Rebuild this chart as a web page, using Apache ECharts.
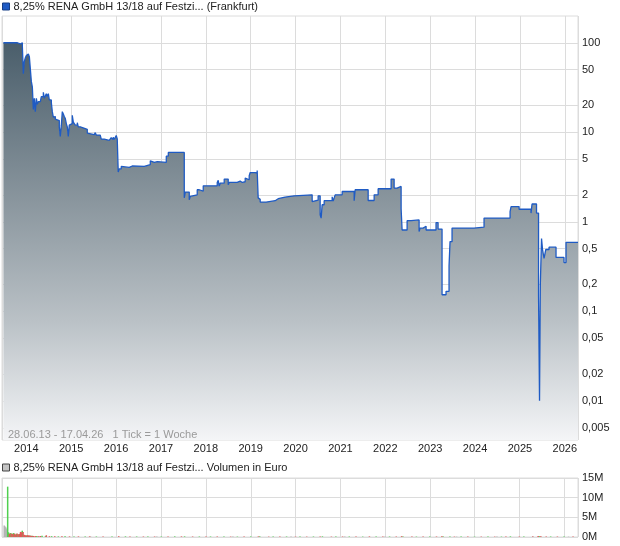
<!DOCTYPE html>
<html>
<head>
<meta charset="utf-8">
<script src="https://cdn.jsdelivr.net/npm/echarts@6/dist/echarts.min.js"></script>
<style>
html,body{margin:0;padding:0;background:#ffffff;}
#chart{width:620px;height:546px;}
</style>
</head>
<body>
<div id="chart"></div>
<script>
// ---------- texts ----------
const priceName = '8,25% RENA GmbH 13/18 auf Festzi... (Frankfurt)';
const volumeName = '8,25% RENA GmbH 13/18 auf Festzi... Volumen in Euro';
const rangeText = '28.06.13 - 17.04.26   1 Tick = 1 Woche';
const axisStartYear = 2013.457;   // left edge of the time axis
const axisEndYear = 2026.294;     // right edge (17.04.26)

// ---------- tick labels ----------
const yearTicks = [2014,2015,2016,2017,2018,2019,2020,2021,2022,2023,2024,2025,2026];
const priceTicks = [100,50,20,10,5,2,1,0.5,0.2,0.1,0.05,0.02,0.01,0.005];
const volumeTicks = [0, 5e6, 10e6, 15e6];

// ---------- price (decimal year, price) ----------
const priceSeries = [
 [2013.488,100],[2013.800,100],[2013.822,97],[2013.866,100],[2013.911,92],[2013.933,45],[2013.955,62],[2013.978,68],
 [2014.000,72],[2014.022,75],[2014.045,75],[2014.067,70],[2014.111,37],[2014.134,32],[2014.156,18],[2014.178,24],
 [2014.200,17],[2014.223,24],[2014.245,20.5],[2014.267,22],[2014.312,23],[2014.334,25],[2014.379,28],[2014.401,24],
 [2014.423,25],[2014.445,27],[2014.468,25],[2014.490,27],[2014.512,23],[2014.557,21.5],[2014.579,17],[2014.601,14.8],
 [2014.624,15],[2014.646,14],[2014.690,13.5],[2014.735,11.5],[2014.757,9],[2014.780,12],[2014.802,17],[2014.824,16],
 [2014.846,15],[2014.869,14.2],[2014.891,12.5],[2014.913,11.5],[2014.935,9],[2014.958,12],[2015.002,12.5],[2015.024,15.5],
 [2015.047,13],[2015.069,13.5],[2015.091,12],[2015.136,12.8],[2015.158,11.5],[2015.203,11],[2015.314,11.2],[2015.336,10.8],
 [2015.359,9.8],[2015.403,9.4],[2015.514,9.5],[2015.537,9.9],[2015.559,9.3],[2015.648,8.9],[2015.670,8.4],[2015.737,8.1],
 [2015.849,8.3],[2015.893,8.7],[2015.915,8.3],[2015.938,8.8],[2015.960,8.3],[2016.004,9.2],[2016.027,8.4],[2016.049,3.6],
 [2016.071,3.9],[2016.116,4.15],[2016.160,4.05],[2016.294,4.2],[2016.361,4.15],[2016.628,4.35],[2016.762,4.8],[2016.806,4.6],
 [2016.851,4.7],[2016.918,4.6],[2017.118,5.4],[2017.163,5.95],[2017.519,1.85],[2017.541,2.15],[2017.630,1.76],[2017.653,1.92],
 [2017.697,2.0],[2017.808,2.28],[2017.853,2.2],[2017.942,2.52],[2018.254,2.75],[2018.276,2.9],[2018.298,2.5],[2018.321,2.7],
 [2018.410,3.0],[2018.499,2.6],[2018.521,2.75],[2018.699,2.85],[2018.766,2.75],[2018.811,2.8],[2018.878,3.08],[2018.922,2.95],
 [2018.967,3.27],[2018.989,3.55],[2019.100,3.65],[2019.123,3.5],[2019.145,3.75],[2019.167,1.85],[2019.189,1.78],[2019.212,1.66],
 [2019.345,1.72],[2019.546,1.81],[2019.613,1.89],[2019.768,1.95],[2019.969,2.0],[2020.370,1.68],[2020.392,1.75],[2020.503,1.95],
 [2020.548,1.2],[2020.570,1.1],[2020.592,1.55],[2020.637,1.72],[2020.815,1.9],[2020.837,1.7],[2020.860,1.85],[2020.882,2.0],
 [2021.038,2.18],[2021.305,1.72],[2021.327,2.28],[2021.617,1.73],[2021.751,2.0],[2021.840,2.34],[2022.129,3.0],[2022.196,2.38],
 [2022.263,2.48],[2022.352,1.4],[2022.374,0.81],[2022.486,1.03],[2022.575,1.05],[2022.753,0.78],[2022.775,0.85],[2022.842,0.89],
 [2022.909,0.81],[2023.131,0.98],[2023.176,0.83],[2023.265,0.153],[2023.354,0.167],[2023.421,0.32],[2023.443,0.6],[2023.488,0.85],
 [2023.978,0.87],[2024.201,1.1],[2024.780,1.3],[2024.802,1.48],[2024.980,1.38],[2025.247,1.25],[2025.269,1.58],[2025.369,1.25],
 [2025.414,0.15],[2025.436,0.01],[2025.454,0.2],[2025.481,0.65],[2025.503,0.49],[2025.537,0.39],[2025.575,0.49],[2025.648,0.52],
 [2025.804,0.4],[2025.982,0.35],[2026.027,0.59],[2026.294,0.59]
];

// ---------- volume (decimal year, million euro) ----------
const volumeUnchanged = [
 [2013.490,2.9],[2013.509,2.7],[2013.528,2.4],[2013.548,2.0],
 [2015.420,0.1],[2016.900,0.1],[2018.600,0.1],[2019.900,0.1],[2021.100,0.1],[2022.000,0.1],[2023.600,0.1],[2024.500,0.1],[2025.300,0.1],[2026.100,0.1]
];
const volumeUp = [
 [2013.567,12.8],[2013.586,1.2],[2013.624,1.0],[2013.663,0.9],[2013.701,1.0],[2013.759,0.8],[2013.816,0.7],[2013.893,1.6],
 [2013.989,0.4],[2014.066,0.35],[2014.124,0.3],[2014.220,0.25],[2014.335,0.3],[2014.412,0.2],[2014.550,0.2],[2014.700,0.15],
 [2014.850,0.2],[2015.050,0.15],[2015.300,0.15],[2015.550,0.12],[2015.900,0.12],[2016.200,0.15],[2016.450,0.12],[2016.700,0.12],
 [2017.000,0.12],[2017.300,0.15],[2017.520,0.15],[2017.850,0.12],[2018.100,0.12],[2018.400,0.12],[2018.700,0.1],[2019.000,0.12],
 [2019.200,0.15],[2019.500,0.1],[2019.800,0.12],[2020.100,0.1],[2020.400,0.12],[2020.600,0.15],[2020.900,0.12],[2021.200,0.12],
 [2021.500,0.1],[2021.800,0.12],[2022.100,0.12],[2022.400,0.15],[2022.700,0.1],[2023.000,0.12],[2023.300,0.15],[2023.450,0.15],
 [2023.700,0.1],[2024.000,0.1],[2024.300,0.1],[2024.600,0.1],[2024.800,0.15],[2025.100,0.12],[2025.450,0.2],[2025.700,0.12],[2026.000,0.1]
];
const volumeDown = [
 [2013.605,0.8],[2013.644,0.9],[2013.682,0.75],[2013.720,0.85],[2013.740,0.6],[2013.778,0.9],[2013.797,0.7],[2013.836,0.8],
 [2013.855,1.3],[2013.874,1.2],[2013.912,1.3],[2013.932,0.6],[2013.951,0.5],[2013.970,0.4],[2014.008,0.45],[2014.028,0.4],
 [2014.047,0.35],[2014.085,0.3],[2014.105,0.3],[2014.143,0.25],[2014.182,0.25],[2014.258,0.2],[2014.297,0.25],[2014.431,0.45],
 [2014.500,0.2],[2014.620,0.2],[2014.780,0.2],[2014.950,0.15],[2015.150,0.15],[2015.400,0.15],[2015.700,0.15],[2016.050,0.2],
 [2016.300,0.12],[2016.600,0.12],[2016.850,0.12],[2017.150,0.12],[2017.450,0.15],[2017.700,0.12],[2018.000,0.12],[2018.250,0.12],
 [2018.550,0.1],[2018.850,0.12],[2019.170,0.15],[2019.400,0.1],[2019.650,0.1],[2020.000,0.1],[2020.250,0.1],[2020.550,0.15],
 [2020.800,0.1],[2021.050,0.12],[2021.350,0.15],[2021.650,0.15],[2021.950,0.15],[2022.250,0.12],[2022.370,0.2],[2022.600,0.12],
 [2022.850,0.12],[2023.150,0.12],[2023.270,0.2],[2023.550,0.1],[2023.850,0.1],[2024.150,0.1],[2024.450,0.1],[2024.700,0.1],
 [2025.000,0.12],[2025.300,0.15],[2025.420,0.25],[2025.480,0.2],[2025.600,0.12],[2025.850,0.12],[2026.200,0.1]
];

// ---------- helpers (unit conversion only) ----------
function yearToTime(t) {
  const y = Math.floor(t);
  const a = new Date(y, 0, 1).getTime();
  const b = new Date(y + 1, 0, 1).getTime();
  return a + (t - y) * (b - a);
}
const xMin = yearToTime(axisStartYear);
const xMax = yearToTime(axisEndYear);
const toPts = arr => arr.map(p => [yearToTime(p[0]), p[1]]);
const toVol = arr => arr.map(p => [yearToTime(p[0]), p[1] * 1e6]);
function fmtNum(v) {
  return String(Number(Number(v).toPrecision(6))).replace('.', ',');
}
function yearLabel(v) {
  const d = new Date(v);
  return (d.getMonth() === 0 && d.getDate() === 1 && yearTicks.indexOf(d.getFullYear()) >= 0) ? String(d.getFullYear()) : '';
}

const FONT = 'Liberation Sans, Arial, sans-serif';
const FS = 11;
const GRID_COLOR = '#dcdcdc';
const YEAR = 365.2425 * 86400000;

const chart = echarts.init(document.getElementById('chart'), null, {renderer: 'canvas'});
chart.setOption({
  animation: false,
  backgroundColor: '#ffffff',
  textStyle: {fontFamily: FONT},
  legend: [
    {
      data: [priceName], left: 2, top: 1, padding: 0, icon: 'rect', itemWidth: 7, itemHeight: 7, itemGap: 4,
      selectedMode: false,
      itemStyle: {color: '#1f5bc4', borderColor: '#173f86', borderWidth: 1},
      textStyle: {fontSize: FS, color: '#222', fontFamily: FONT, padding: [0, 0, 0, -1]}
    },
    {
      data: [volumeName], left: 2, top: 462, padding: 0, icon: 'rect', itemWidth: 7, itemHeight: 7, itemGap: 4,
      selectedMode: false,
      itemStyle: {color: '#c4c4c4', borderColor: '#444', borderWidth: 1},
      textStyle: {fontSize: FS, color: '#222', fontFamily: FONT, padding: [0, 0, 0, -1]}
    }
  ],
  grid: [
    {left: 2, right: 42, top: 16, height: 424, show: true, borderColor: GRID_COLOR, borderWidth: 1, backgroundColor: 'transparent'},
    {left: 2, right: 42, top: 478, height: 59, show: true, borderColor: GRID_COLOR, borderWidth: 1, backgroundColor: 'transparent'}
  ],
  graphic: [
    {type: 'text', left: 8, top: 429, z: 50, style: {text: rangeText, fill: '#9a9a9a', font: FS + 'px ' + FONT}}
  ],
  xAxis: [
    {
      type: 'time', gridIndex: 0, min: xMin, max: xMax,
      minInterval: YEAR, maxInterval: YEAR,
      axisLine: {show: false}, axisTick: {show: false},
      splitLine: {show: true, lineStyle: {color: GRID_COLOR, width: 1}},
      axisLabel: {
        show: true, margin: 3, fontSize: FS, color: '#222', fontFamily: FONT,
        hideOverlap: false, showMinLabel: false, showMaxLabel: false,
        formatter: yearLabel
      }
    },
    {
      type: 'time', gridIndex: 1, min: xMin, max: xMax,
      minInterval: YEAR, maxInterval: YEAR,
      axisLine: {show: false}, axisTick: {show: false},
      splitLine: {show: true, lineStyle: {color: GRID_COLOR, width: 1}},
      axisLabel: {show: false}
    }
  ],
  yAxis: [
    {
      type: 'log', logBase: 10, gridIndex: 0, position: 'right',
      min: 0.00365, max: 199,
      axisLine: {show: false},
      axisTick: {show: false, customValues: priceTicks},
      splitLine: {show: true, lineStyle: {color: GRID_COLOR, width: 1}},
      axisLabel: {
        customValues: priceTicks, margin: 4, fontSize: FS, color: '#222', fontFamily: FONT,
        formatter: fmtNum
      }
    },
    {
      type: 'value', gridIndex: 1, position: 'right',
      min: volumeTicks[0], max: volumeTicks[volumeTicks.length - 1], interval: volumeTicks[1] - volumeTicks[0],
      axisLine: {show: false}, axisTick: {show: false},
      splitLine: {show: true, lineStyle: {color: GRID_COLOR, width: 1}},
      axisLabel: {
        margin: 4, fontSize: FS, color: '#222', fontFamily: FONT,
        formatter: v => (v / 1e6) + 'M'
      }
    }
  ],
  series: [
    {
      name: priceName, type: 'line', xAxisIndex: 0, yAxisIndex: 0,
      data: toPts(priceSeries), step: 'end', symbol: 'none', showSymbol: false,
      color: '#1f5bc4',
      lineStyle: {color: '#1f5bc4', width: 1.3},
      areaStyle: {
        origin: 'start', opacity: 1,
        color: new echarts.graphic.LinearGradient(0, 0, 0, 1, [
          {offset: 0, color: '#4a5e6b'},
          {offset: 0.4, color: '#8a969e'},
          {offset: 0.7, color: '#bac1c6'},
          {offset: 1, color: '#f4f5f7'}
        ])
      },
      z: 3
    },
    {
      name: volumeName, type: 'bar', xAxisIndex: 1, yAxisIndex: 1,
      data: toVol(volumeUnchanged), barWidth: 1.5, barGap: '-100%',
      itemStyle: {color: '#b4b4b4'}, color: '#c4c4c4'
    },
    {
      name: 'up', type: 'bar', xAxisIndex: 1, yAxisIndex: 1,
      data: toVol(volumeUp), barWidth: 1.5, barGap: '-100%',
      itemStyle: {color: '#4fd04f'}
    },
    {
      name: 'down', type: 'bar', xAxisIndex: 1, yAxisIndex: 1,
      data: toVol(volumeDown), barWidth: 1.5, barGap: '-100%',
      itemStyle: {color: '#e05858'}
    }
  ]
});
</script>
</body>
</html>
